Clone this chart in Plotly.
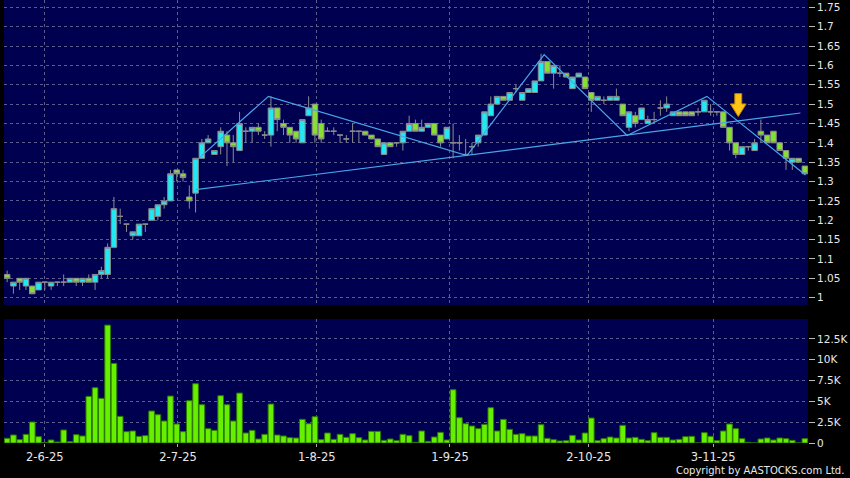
import plotly.graph_objects as go
from plotly.subplots import make_subplots

# ---- data ----
opens = [1.06, 1.03, 1.05, 1.03, 1.03, 1.02, 1.04, 1.03, 1.04, 1.04,
         1.04, 1.05, 1.04, 1.05, 1.04, 1.06, 1.06, 1.13, 1.21, 1.19,
         1.16, 1.16, 1.19, 1.20, 1.21, 1.24, 1.25, 1.33, 1.32, 1.26,
         1.27, 1.36, 1.40, 1.37, 1.39, 1.42, 1.40, 1.38, 1.43, 1.43,
         1.44, 1.42, 1.42, 1.49, 1.45, 1.44, 1.43, 1.40, 1.47, 1.50,
         1.45, 1.43, 1.43, 1.42, 1.41, 1.43, 1.43, 1.43, 1.42, 1.41,
         1.37, 1.40, 1.40, 1.40, 1.43, 1.45, 1.43, 1.44, 1.45, 1.42,
         1.41, 1.40, 1.40, 1.37, 1.39, 1.40, 1.42, 1.47, 1.50, 1.52,
         1.51, 1.54, 1.51, 1.53, 1.53, 1.56, 1.61, 1.58, 1.58, 1.58,
         1.54, 1.57, 1.57, 1.53, 1.51, 1.51, 1.51, 1.51, 1.50, 1.44,
         1.47, 1.46, 1.45, 1.46, 1.49, 1.49, 1.47, 1.48, 1.48, 1.48,
         1.48, 1.48, 1.48, 1.48, 1.48, 1.44, 1.40, 1.37, 1.39, 1.38,
         1.43, 1.42, 1.43, 1.40, 1.38, 1.35, 1.36, 1.34]
highs = [1.07, 1.04, 1.05, 1.05, 1.03, 1.04, 1.04, 1.04, 1.04, 1.06,
         1.05, 1.05, 1.05, 1.06, 1.06, 1.08, 1.14, 1.26, 1.23, 1.19,
         1.17, 1.19, 1.19, 1.23, 1.24, 1.26, 1.33, 1.33, 1.33, 1.29,
         1.36, 1.41, 1.42, 1.38, 1.44, 1.43, 1.42, 1.48, 1.44, 1.44,
         1.45, 1.43, 1.52, 1.49, 1.46, 1.44, 1.43, 1.46, 1.52, 1.50,
         1.46, 1.44, 1.44, 1.42, 1.42, 1.45, 1.43, 1.43, 1.42, 1.41,
         1.40, 1.40, 1.40, 1.43, 1.47, 1.46, 1.46, 1.45, 1.45, 1.42,
         1.44, 1.45, 1.42, 1.41, 1.40, 1.42, 1.48, 1.52, 1.52, 1.52,
         1.53, 1.55, 1.53, 1.54, 1.56, 1.63, 1.61, 1.60, 1.60, 1.58,
         1.57, 1.58, 1.57, 1.53, 1.52, 1.52, 1.52, 1.54, 1.50, 1.48,
         1.48, 1.49, 1.47, 1.48, 1.51, 1.52, 1.48, 1.48, 1.48, 1.48,
         1.49, 1.51, 1.50, 1.48, 1.48, 1.44, 1.40, 1.39, 1.39, 1.41,
         1.46, 1.42, 1.43, 1.40, 1.38, 1.36, 1.36, 1.34]
lows = [1.04, 1.01, 1.02, 1.02, 1.01, 1.02, 1.02, 1.02, 1.03, 1.03,
        1.04, 1.03, 1.03, 1.04, 1.02, 1.05, 1.05, 1.13, 1.19, 1.17,
        1.15, 1.16, 1.17, 1.20, 1.20, 1.23, 1.25, 1.30, 1.30, 1.23,
        1.22, 1.36, 1.40, 1.37, 1.37, 1.34, 1.35, 1.38, 1.40, 1.40,
        1.42, 1.41, 1.39, 1.43, 1.42, 1.40, 1.40, 1.40, 1.47, 1.40,
        1.40, 1.43, 1.42, 1.40, 1.40, 1.40, 1.40, 1.42, 1.41, 1.39,
        1.37, 1.39, 1.39, 1.38, 1.43, 1.43, 1.43, 1.44, 1.42, 1.39,
        1.41, 1.36, 1.38, 1.37, 1.37, 1.39, 1.42, 1.47, 1.50, 1.51,
        1.51, 1.53, 1.51, 1.53, 1.53, 1.56, 1.58, 1.54, 1.57, 1.57,
        1.54, 1.57, 1.54, 1.48, 1.51, 1.50, 1.51, 1.51, 1.47, 1.43,
        1.44, 1.46, 1.45, 1.45, 1.47, 1.48, 1.47, 1.47, 1.47, 1.47,
        1.47, 1.48, 1.47, 1.47, 1.44, 1.38, 1.36, 1.37, 1.38, 1.38,
        1.40, 1.40, 1.40, 1.38, 1.33, 1.33, 1.35, 1.32]
closes = [1.05, 1.04, 1.04, 1.05, 1.01, 1.04, 1.04, 1.04, 1.04, 1.04,
          1.05, 1.04, 1.05, 1.04, 1.06, 1.07, 1.13, 1.23, 1.21, 1.19,
          1.17, 1.19, 1.19, 1.23, 1.24, 1.25, 1.32, 1.32, 1.31, 1.25,
          1.36, 1.40, 1.41, 1.38, 1.43, 1.40, 1.39, 1.45, 1.43, 1.44,
          1.43, 1.42, 1.49, 1.46, 1.44, 1.42, 1.41, 1.46, 1.49, 1.42,
          1.41, 1.43, 1.43, 1.42, 1.41, 1.43, 1.43, 1.42, 1.41, 1.39,
          1.40, 1.39, 1.40, 1.43, 1.45, 1.43, 1.44, 1.45, 1.42, 1.40,
          1.44, 1.40, 1.40, 1.37, 1.39, 1.42, 1.48, 1.50, 1.52, 1.51,
          1.53, 1.54, 1.53, 1.54, 1.56, 1.61, 1.58, 1.60, 1.58, 1.57,
          1.57, 1.58, 1.54, 1.51, 1.52, 1.51, 1.52, 1.52, 1.47, 1.48,
          1.45, 1.49, 1.46, 1.46, 1.49, 1.50, 1.48, 1.47, 1.47, 1.47,
          1.48, 1.51, 1.48, 1.48, 1.44, 1.40, 1.37, 1.39, 1.39, 1.40,
          1.42, 1.40, 1.40, 1.38, 1.36, 1.36, 1.35, 1.32]
volumes = [560, 960, 400, 1040, 2520, 760, 30, 360, 120, 1560,
           160, 1000, 840, 5600, 6640, 5360, 14160, 9560, 3200, 1360,
           1440, 800, 880, 3840, 3400, 2640, 5640, 2280, 1360, 5080,
           7120, 4600, 1720, 1520, 5680, 4600, 2640, 6000, 1200, 1520,
           480, 1040, 4680, 960, 840, 640, 600, 2840, 2320, 3160,
           400, 1200, 440, 1040, 680, 1120, 640, 360, 1400, 1400,
           320, 480, 280, 1040, 880, 80, 1440, 200, 720, 1280,
           360, 6400, 3040, 2320, 2040, 1720, 2240, 4240, 1440, 2840,
           1640, 1040, 1120, 840, 840, 2200, 560, 400, 240, 280,
           920, 360, 1200, 3000, 280, 520, 720, 600, 2120, 600,
           680, 440, 280, 1240, 680, 680, 360, 440, 760, 800,
           0, 1240, 800, 280, 1440, 2280, 1720, 520, 80, 0,
           480, 600, 360, 600, 520, 320, 0, 520]

date_tick_pos = [6, 27.2, 49.3, 70.5, 92.6, 112.4]
date_tick_labels = ["2-6-25", "2-7-25", "1-8-25", "1-9-25", "2-10-25", "3-11-25"]
price_ticks = [1.0, 1.05, 1.1, 1.15, 1.2, 1.25, 1.3, 1.35, 1.4, 1.45,
               1.5, 1.55, 1.6, 1.65, 1.7, 1.75]
vol_ticks = [0, 2500, 5000, 7500, 10000, 12500]
vol_tick_labels = ["0", "2.5K", "5K", "7.5K", "10K", "12.5K"]

# pattern lines (index, price)
pattern_idx = [30.7, 41.6, 73.2, 85.5, 98.7, 111.4, 127.1]
pattern_px = [1.363, 1.52, 1.367, 1.628, 1.419, 1.52, 1.317]
support_idx = [30.0, 126.3]
support_px = [1.279, 1.477]
arrow_idx = 116.4
arrow_top = 1.527
arrow_tip = 1.468

# ---- figure ----
x = list(range(len(opens)))
BG = "#000050"
GRID = "#5c5c8c"
TXT = "#e8e8e8"
FONT = "DejaVu Sans"

fig = make_subplots(rows=2, cols=1, shared_xaxes=True)

fig.add_trace(go.Candlestick(
    x=x, open=opens, high=highs, low=lows, close=closes,
    increasing=dict(fillcolor="#20e8f4", line=dict(color="#8c8c8c", width=1)),
    decreasing=dict(fillcolor="#86e034", line=dict(color="#8c8c8c", width=1)),
    whiskerwidth=0, hoverinfo="skip", showlegend=False), row=1, col=1)

fig.add_trace(go.Scatter(x=support_idx, y=support_px, mode="lines",
                         line=dict(color="#48a6e8", width=1.2),
                         hoverinfo="skip", showlegend=False), row=1, col=1)
fig.add_trace(go.Scatter(x=pattern_idx, y=pattern_px, mode="lines",
                         line=dict(color="#48a6e8", width=1.2),
                         hoverinfo="skip", showlegend=False), row=1, col=1)

fig.add_trace(go.Bar(x=x, y=volumes, marker=dict(color="#66f000",
                     line=dict(color="#2c7a00", width=1)),
                     hoverinfo="skip", showlegend=False), row=2, col=1)

# down arrow
sh = 0.55
hh = 1.25
mid = arrow_top - (arrow_top - arrow_tip) * 0.45
path = (f"M {arrow_idx - sh} {arrow_top} L {arrow_idx + sh} {arrow_top} "
        f"L {arrow_idx + sh} {mid} L {arrow_idx + hh} {mid} "
        f"L {arrow_idx} {arrow_tip} L {arrow_idx - hh} {mid} "
        f"L {arrow_idx - sh} {mid} Z")
fig.add_shape(type="path", path=path, xref="x", yref="y",
              fillcolor="#ffc414", line=dict(color="#c98a00", width=1))

fig.add_annotation(text="Copyright by AASTOCKS.com Ltd.", xref="paper", yref="paper",
                   x=1.0473, y=-0.061, xanchor="right", yanchor="middle",
                   showarrow=False, font=dict(family=FONT, size=10, color=TXT))

axis_common = dict(showline=False, zeroline=False, gridcolor=GRID, griddash="3px,3px",
                   gridwidth=1)

fig.update_layout(
    width=850, height=478,
    margin=dict(l=4, r=42, t=0, b=35),
    paper_bgcolor="#000000", plot_bgcolor=BG,
    showlegend=False, boxgap=0.12, boxgroupgap=0, bargap=0.1,
    font=dict(family=FONT, size=10, color=TXT),
    xaxis=dict(range=[-0.5, 127.5], tickvals=date_tick_pos, showticklabels=False,
               rangeslider=dict(visible=False), showgrid=True, **axis_common),
    xaxis2=dict(range=[-0.5, 127.5], tickvals=date_tick_pos, ticktext=date_tick_labels,
                ticks="outside", ticklen=3, tickcolor="#aaaaaa",
                tickfont=dict(family=FONT, size=11.5, color=TXT),
                showgrid=True, **axis_common),
    yaxis=dict(domain=[0.3115, 1.0], range=[0.981, 1.769], side="right",
               tickvals=price_ticks, ticktext=[f"{v:g}" for v in price_ticks],
               ticks="outside", ticklen=6, tickcolor="#bbbbbb",
               tickfont=dict(family=FONT, size=10.5, color=TXT),
               showgrid=True, **axis_common),
    yaxis2=dict(domain=[0.0, 0.28], range=[0, 14900], side="right",
                tickvals=vol_ticks, ticktext=vol_tick_labels,
                ticks="outside", ticklen=6, tickcolor="#bbbbbb",
                tickfont=dict(family=FONT, size=10.5, color=TXT),
                showgrid=True, **axis_common),
)

fig.write_html("out.html",
               config={"displayModeBar": False},
               post_script="document.body.style.margin='0px';"
                           "document.body.style.background='#000000';"
                           "document.body.style.overflow='hidden';")
